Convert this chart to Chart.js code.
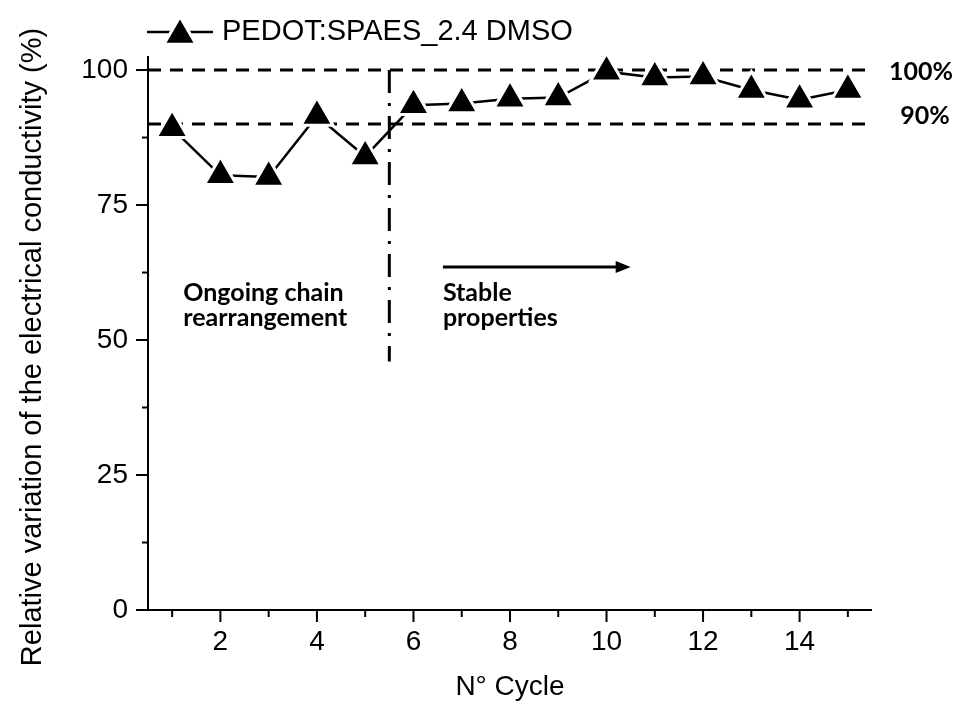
<!DOCTYPE html>
<html>
<head>
<meta charset="utf-8">
<script src="https://cdn.jsdelivr.net/npm/chart.js@4.4.0/dist/chart.umd.min.js"></script>
<style>
  html, body { margin: 0; padding: 0; background: #fff; }
</style>
</head>
<body>
<canvas id="chart" width="955" height="704"></canvas>
<script>
// data
const cycles = [1, 2, 3, 4, 5, 6, 7, 8, 9, 10, 11, 12, 13, 14, 15];
const conductivity = [89.2, 80.5, 80.2, 91.5, 84.0, 93.5, 93.8, 94.7, 94.9, 99.7, 98.6, 98.8, 96.3, 94.5, 96.3];
const seriesLabel = "PEDOT:SPAES_2.4 DMSO";
const yTitle = "Relative variation of the electrical conductivity (%)";

const xMajorTicks = [2, 4, 6, 8, 10, 12, 14];
const xMinorTicks = [1, 3, 5, 7, 9, 11, 13, 15];
const yMajorTicks = [0, 25, 50, 75, 100];
const yMinorTicks = [12.5, 37.5, 62.5, 87.5];

const refLevels = [100, 90];
const refLabels = ["100%", "90%"];
const dividerX = 5.5;
const dividerRange = [100, 46];
const arrowRange = [6.61, 10.5];
const arrowY = 63.5;
const leftNote = ["Ongoing chain", "rearrangement"];
const rightNote = ["Stable", "properties"];

const SANS = '"Liberation Sans", Arial, sans-serif';
const BOLD = 'bold 25px Lato, "Open Sans", sans-serif';

function strokeLine(ctx, x1, y1, x2, y2) {
  ctx.beginPath();
  ctx.moveTo(x1, y1);
  ctx.lineTo(x2, y2);
  ctx.stroke();
}

function triangle(ctx, cx, cy, r) {
  ctx.beginPath();
  ctx.moveTo(cx, cy - r);
  ctx.lineTo(cx + r * Math.sin(2 * Math.PI / 3), cy + r * 0.5);
  ctx.lineTo(cx - r * Math.sin(2 * Math.PI / 3), cy + r * 0.5);
  ctx.closePath();
}

// 기준선, 구분선: 데이터 아래에 깔기
const decorPlugin = {
  id: "decor",
  beforeDatasetsDraw(chart) {
    const { ctx, chartArea: a, scales: { x, y } } = chart;
    ctx.save();
    ctx.strokeStyle = "#000";
    ctx.lineWidth = 3;
    ctx.setLineDash([13, 9]);
    refLevels.forEach(function (v) {
      const py = y.getPixelForValue(v);
      strokeLine(ctx, a.left, py, a.right, py);
    });
    ctx.setLineDash([23, 10, 3, 10]);
    const dx = x.getPixelForValue(dividerX);
    strokeLine(ctx, dx, y.getPixelForValue(dividerRange[0]), dx, y.getPixelForValue(dividerRange[1]));
    ctx.restore();
  },
  afterDraw(chart) {
    const { ctx, chartArea: a, scales: { x, y } } = chart;
    ctx.save();
    ctx.strokeStyle = "#000";
    ctx.fillStyle = "#000";
    ctx.lineWidth = 2;
    ctx.setLineDash([]);

    // axes + tick marks (outward, minor ones shorter)
    strokeLine(ctx, a.left, a.top, a.left, a.bottom + 1);
    strokeLine(ctx, a.left - 1, a.bottom, a.right, a.bottom);
    yMajorTicks.forEach(function (v) {
      const py = y.getPixelForValue(v);
      strokeLine(ctx, a.left - 12, py, a.left, py);
    });
    yMinorTicks.forEach(function (v) {
      const py = y.getPixelForValue(v);
      strokeLine(ctx, a.left - 6, py, a.left, py);
    });
    xMajorTicks.forEach(function (v) {
      const px = x.getPixelForValue(v);
      strokeLine(ctx, px, a.bottom, px, a.bottom + 12);
    });
    xMinorTicks.forEach(function (v) {
      const px = x.getPixelForValue(v);
      strokeLine(ctx, px, a.bottom, px, a.bottom + 7);
    });

    // y title (placed a bit below the plot centre, like the original)
    ctx.save();
    ctx.translate(33, 347);
    ctx.rotate(-Math.PI / 2);
    ctx.font = "29px " + SANS;
    ctx.textAlign = "center";
    ctx.textBaseline = "middle";
    ctx.fillText(yTitle, 0, 0);
    ctx.restore();

    // 100% / 90% labels
    ctx.font = BOLD;
    ctx.textAlign = "center";
    ctx.textBaseline = "middle";
    ctx.fillText(refLabels[0], a.right + 49, y.getPixelForValue(refLevels[0]) + 2);
    ctx.fillText(refLabels[1], a.right + 53, y.getPixelForValue(refLevels[1]) - 8);

    // notes
    ctx.textAlign = "left";
    const lx = x.getPixelForValue(1.23);
    const rx = x.getPixelForValue(6.61);
    const l1 = y.getPixelForValue(58.7);
    const l2 = y.getPixelForValue(54.1);
    ctx.fillText(leftNote[0], lx, l1);
    ctx.fillText(leftNote[1], lx, l2);
    ctx.fillText(rightNote[0], rx, l1);
    ctx.fillText(rightNote[1], rx, l2);

    // arrow
    const ax1 = x.getPixelForValue(arrowRange[0]);
    const ax2 = x.getPixelForValue(arrowRange[1]);
    const ay = y.getPixelForValue(arrowY);
    ctx.lineWidth = 3;
    strokeLine(ctx, ax1, ay, ax2 - 10, ay);
    ctx.beginPath();
    ctx.moveTo(ax2, ay);
    ctx.lineTo(ax2 - 15, ay - 6);
    ctx.lineTo(ax2 - 15, ay + 6);
    ctx.closePath();
    ctx.fill();

    // legend
    ctx.lineWidth = 2.5;
    strokeLine(ctx, 147, 32, 213, 32);
    triangle(ctx, 180, 35, 18.5);
    ctx.fillStyle = "#fff";
    ctx.lineWidth = 3;
    ctx.strokeStyle = "#fff";
    ctx.fill();
    ctx.stroke();
    triangle(ctx, 180, 35, 15.5);
    ctx.fillStyle = "#000";
    ctx.fill();
    ctx.font = "29px " + SANS;
    ctx.textAlign = "left";
    ctx.fillText(seriesLabel, 222, 32);
    ctx.restore();
  },
};

new Chart(document.getElementById("chart"), {
  type: "scatter",
  data: {
    datasets: [
      {
        label: seriesLabel,
        data: cycles.map(function (c, i) { return { x: c, y: conductivity[i] }; }),
        showLine: true,
        borderColor: "#000",
        borderWidth: 2.5,
        pointStyle: "triangle",
        pointRadius: 18.5,
        pointBackgroundColor: "#000",
        pointBorderColor: "#fff",
        pointBorderWidth: 3,
        clip: false,
      },
    ],
  },
  options: {
    responsive: false,
    animation: false,
    devicePixelRatio: 1,
    layout: { padding: { top: 56, right: 83, left: 0, bottom: 0 } },
    plugins: { legend: { display: false }, tooltip: { enabled: false } },
    scales: {
      x: {
        type: "linear",
        min: 0.5,
        max: 15.5,
        grid: { display: false, drawTicks: false },
        border: { display: false },
        afterBuildTicks: function (s) { s.ticks = xMajorTicks.map(function (v) { return { value: v }; }); },
        afterFit: function (s) { s.height = 94; },
        ticks: { color: "#000", font: { family: SANS, size: 28 }, padding: 15, maxRotation: 0, autoSkip: false },
        title: { display: true, text: "N° Cycle", color: "#000", font: { family: SANS, size: 28 }, padding: { top: 0, bottom: 0 } },
      },
      y: {
        min: 0,
        max: 102.6,
        grid: { display: false, drawTicks: false },
        border: { display: false },
        afterBuildTicks: function (s) { s.ticks = yMajorTicks.map(function (v) { return { value: v }; }); },
        afterFit: function (s) { s.width = 148; },
        ticks: { color: "#000", font: { family: SANS, size: 28 }, padding: 20 },
      },
    },
  },
  plugins: [decorPlugin],
});
</script>
</body>
</html>
